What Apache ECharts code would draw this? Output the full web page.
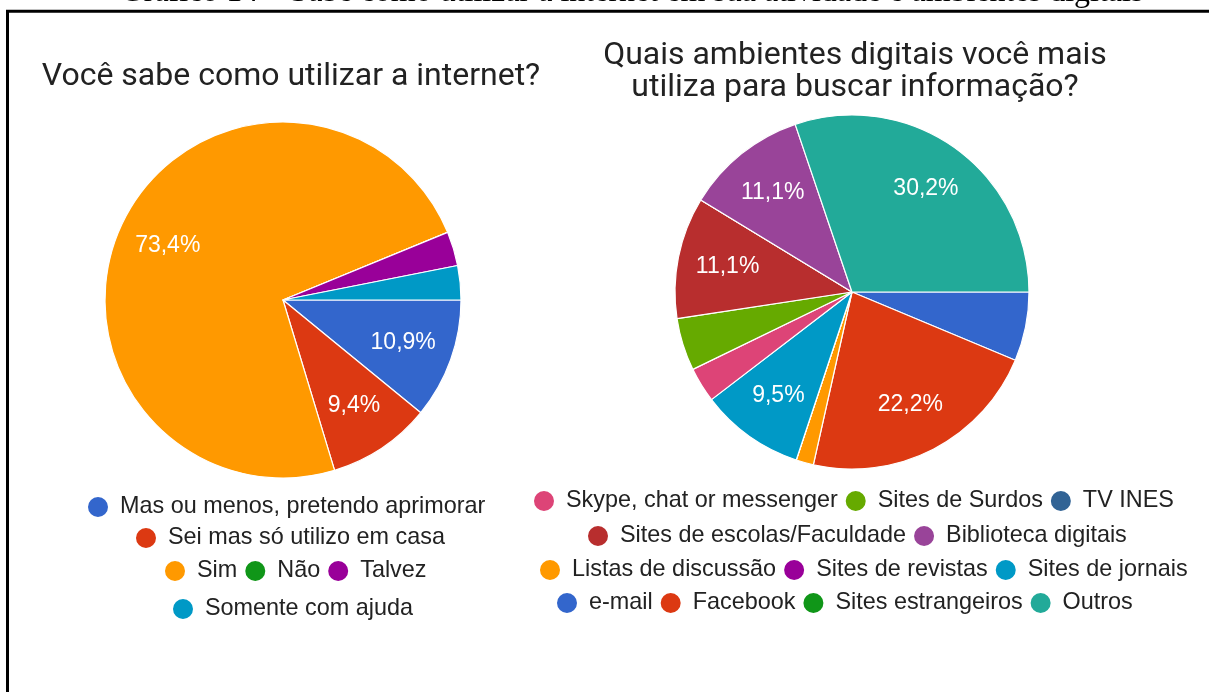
<!DOCTYPE html>
<html>
<head>
<meta charset="utf-8">
<script src="https://cdn.jsdelivr.net/npm/echarts@6/dist/echarts.min.js"></script>
<style>
  html, body { margin: 0; padding: 0; background: #fff; }
  #grafico { width: 1209px; height: 692px; }
</style>
</head>
<body>
<div id="grafico"></div>
<script>
// pie 1 - Você sabe como utilizar a internet? (valores em %)
var nomesInternet = ['Mas ou menos, pretendo aprimorar', 'Sei mas só utilizo em casa', 'Sim', 'Não', 'Talvez', 'Somente com ajuda'];
var valoresInternet = [10.9, 9.4, 73.4, 0, 3.1, 3.1];
var coresInternet = ['#3366cc', '#dc3912', '#ff9900', '#109618', '#990099', '#0099c6'];

// pie 2 - ambientes digitais (ordem das fatias)
var nomesAmbientes = ['e-mail', 'Facebook', 'Listas de discussão', 'Sites estrangeiros', 'Sites de revistas', 'Sites de jornais',
  'Skype, chat or messenger', 'Sites de Surdos', 'Sites de escolas/Faculdade', 'TV INES', 'Biblioteca digitais', 'Outros'];
var valoresAmbientes = [6.3, 22.2, 1.6, 0, 0, 9.5, 3.2, 4.8, 11.1, 0, 11.1, 30.2];
var coresAmbientes = ['#3366cc', '#dc3912', '#ff9900', '#109618', '#990099', '#0099c6',
  '#dd4477', '#66aa00', '#b82e2e', '#316395', '#994499', '#22aa99'];

// linhas da legenda
var legendaEsq = [
  ['Mas ou menos, pretendo aprimorar'],
  ['Sei mas só utilizo em casa'],
  ['Sim', 'Não', 'Talvez'],
  ['Somente com ajuda']
];
var legendaDir = [
  ['Skype, chat or messenger', 'Sites de Surdos', 'TV INES'],
  ['Sites de escolas/Faculdade', 'Biblioteca digitais'],
  ['Listas de discussão', 'Sites de revistas', 'Sites de jornais'],
  ['e-mail', 'Facebook', 'Sites estrangeiros', 'Outros']
];

var fonte = '"Liberation Sans", Arial, sans-serif';

function montaDados(nomes, valores, cores) {
  var d = [];
  for (var i = 0; i < nomes.length; i++) {
    if (cores) d.push({ name: nomes[i], value: valores[i], itemStyle: { color: cores[i] } });
    else d.push({ name: nomes[i], value: valores[i] });
  }
  return d;
}

function rotulo(p) {
  if (p.value < 8) return '';
  return p.value.toFixed(1).replace('.', ',') + '%';
}

function legenda(dados, left, top) {
  return {
    data: dados,
    left: left,
    top: top,
    orient: 'horizontal',
    icon: 'circle',
    itemWidth: 22,
    itemHeight: 22,
    itemGap: 6,
    selectedMode: false,
    padding: 0,
    textStyle: { fontSize: 23.4, fontFamily: fonte, color: '#222', padding: [0, 0, 0, 6] }
  };
}

// pizza real (sem rotulo) + pizza transparente maior só pra posicionar os rotulos a ~70% do raio
function pizza(nomes, valores, cores, centro, raio) {
  return [
    {
      type: 'pie',
      center: centro,
      radius: [0, raio],
      startAngle: 0,
      clockwise: true,
      silent: true,
      data: montaDados(nomes, valores, cores),
      itemStyle: { borderColor: '#fff', borderWidth: 1.2 },
      label: { show: false },
      labelLine: { show: false }
    },
    {
      type: 'pie',
      center: centro,
      radius: [0, raio * 1.4],
      startAngle: 0,
      clockwise: true,
      silent: true,
      z: 5,
      data: montaDados(nomes, valores),
      itemStyle: { color: 'rgba(0,0,0,0)', borderWidth: 0 },
      emphasis: { disabled: true },
      label: { show: true, position: 'inside', formatter: rotulo, color: '#fff', fontSize: 23, fontFamily: fonte },
      labelLine: { show: false }
    }
  ];
}

var chart = echarts.init(document.getElementById('grafico'));

var legendas = [];
var leftEsq = [86, 134, 163, 171], topEsq = [495, 526, 559, 597];
for (var i = 0; i < legendaEsq.length; i++) legendas.push(legenda(legendaEsq[i], leftEsq[i], topEsq[i]));
var leftDir = [532, 586, 538, 555], topDir = [489, 524, 558, 591];
for (var j = 0; j < legendaDir.length; j++) legendas.push(legenda(legendaDir[j], leftDir[j], topDir[j]));

chart.setOption({
  backgroundColor: '#fff',
  animation: false,
  title: [
    {
      text: 'Você sabe como utilizar a internet?',
      left: 291, top: 61, textAlign: 'center', padding: 0,
      textStyle: { fontSize: 32, fontWeight: 'normal', fontFamily: 'Roboto', color: '#222' }
    },
    {
      text: 'Quais ambientes digitais você mais\nutiliza para buscar informação?',
      left: 855, top: 40, textAlign: 'center', padding: 0,
      textStyle: { fontSize: 32, fontWeight: 'normal', fontFamily: 'Roboto', color: '#222', lineHeight: 32 }
    }
  ],
  legend: legendas,
  graphic: [
    {
      // moldura da figura
      type: 'rect',
      shape: { x: 7.5, y: 11.3, width: 1300, height: 800 },
      style: { fill: 'none', stroke: '#000', lineWidth: 3 },
      z: 10
    },
    {
      // legenda do grafico (cortada no topo)
      type: 'text',
      x: 632, y: -7,
      style: {
        text: 'Gráfico 14 – Sabe como utilizar a internet em sua atividade e ambientes digitais',
        font: '32px "Liberation Serif", "Times New Roman", serif',
        fill: '#000', align: 'center', verticalAlign: 'middle'
      },
      z: 10
    }
  ],
  series: pizza(nomesInternet, valoresInternet, coresInternet, [283, 300], 178)
    .concat(pizza(nomesAmbientes, valoresAmbientes, coresAmbientes, [852, 292], 177))
});
</script>
</body>
</html>
